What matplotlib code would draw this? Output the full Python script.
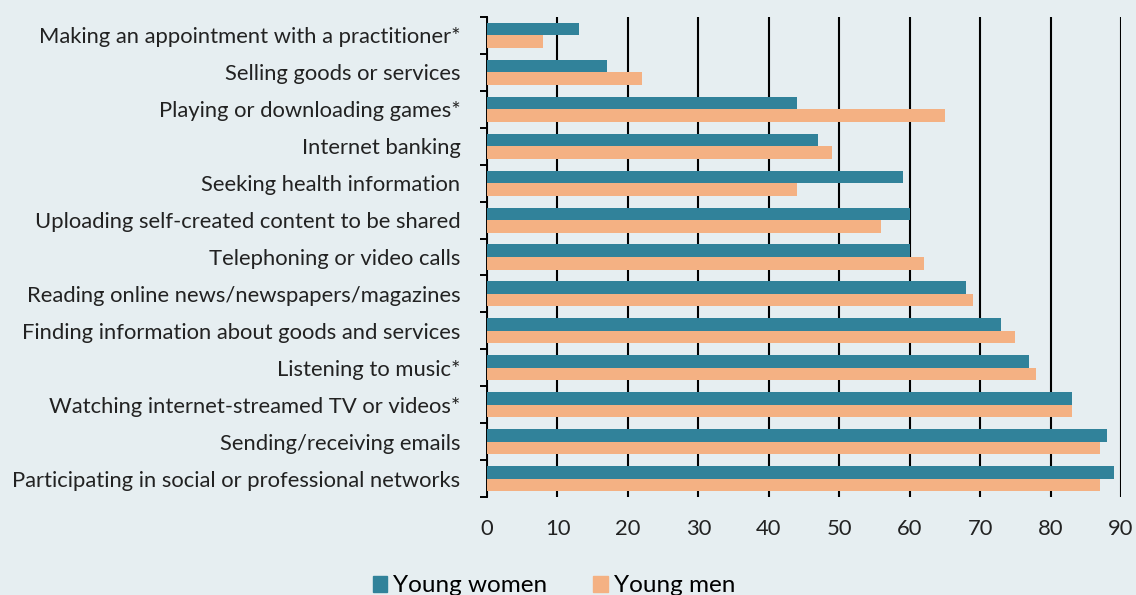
import numpy as np
import matplotlib
matplotlib.use('Agg')
import matplotlib.pyplot as plt
from matplotlib.patches import Patch

# Dane (kolejność od góry do dołu)
kategorie = ['Making an appointment with a practitioner*',
             'Selling goods or services',
             'Playing or downloading games*',
             'Internet banking',
             'Seeking health information',
             'Uploading self-created content to be shared',
             'Telephoning or video calls',
             'Reading online news/newspapers/magazines',
             'Finding information about goods and services',
             'Listening to music*',
             'Watching internet-streamed TV or videos*',
             'Sending/receiving emails',
             'Participating in social or professional networks']
kobiety = [13, 17, 44, 47, 59, 60, 60, 68, 73, 77, 83, 88, 89]
mezczyzni = [8, 22, 65, 49, 44, 56, 62, 69, 75, 78, 83, 87, 87]
x_ticks = [0, 10, 20, 30, 40, 50, 60, 70, 80, 90]

plt.rcParams['font.family'] = ['Lato', 'DejaVu Sans']
tlo = '#E6EEF1'
kolor_k = '#31829A'
kolor_m = '#F4B183'

fig = plt.figure(figsize=(11.36, 5.95), dpi=100, facecolor=tlo)
ax = fig.add_axes([487/1136, 1 - 497/595, (1121 - 487)/1136, (497 - 17)/595])
ax.set_facecolor(tlo)

y = np.arange(len(kategorie))
h = 0.34
ax.barh(y - h/2, kobiety, height=h, color=kolor_k, label='Young women', zorder=3)
ax.barh(y + h/2, mezczyzni, height=h, color=kolor_m, label='Young men', zorder=3)

ax.set_xlim(0, 90)
ax.set_ylim(len(kategorie) - 0.5, -0.5)
ax.set_xticks(x_ticks)
ax.set_yticks(y)
ax.set_yticklabels(kategorie)
ax.set_yticks(np.arange(len(kategorie) + 1) - 0.5, minor=True)
ax.tick_params(axis='y', which='major', length=0, pad=19, labelsize=15.8, labelcolor='#222222')
ax.tick_params(axis='y', which='minor', length=5, width=1.4, color='black')
ax.tick_params(axis='x', length=0, pad=16, labelsize=15.8, labelcolor='#222222')

ax.grid(axis='x', color='black', linewidth=1.5, zorder=1)
for s in ['top', 'right', 'bottom']:
    ax.spines[s].set_visible(False)
ax.spines['left'].set_linewidth(1.4)
ax.spines['left'].set_color('black')

uchwyty = [Patch(color=kolor_k), Patch(color=kolor_m)]
fig.legend(uchwyty, ['Young women', 'Young men'], loc='center', ncol=2,
           bbox_to_anchor=(554/1136, 1 - 586/595), frameon=False, fontsize=17.5,
           handlelength=0.6, handleheight=0.6, handletextpad=0.25, columnspacing=1.9)

plt.savefig('out.png', dpi=100, facecolor=tlo)
